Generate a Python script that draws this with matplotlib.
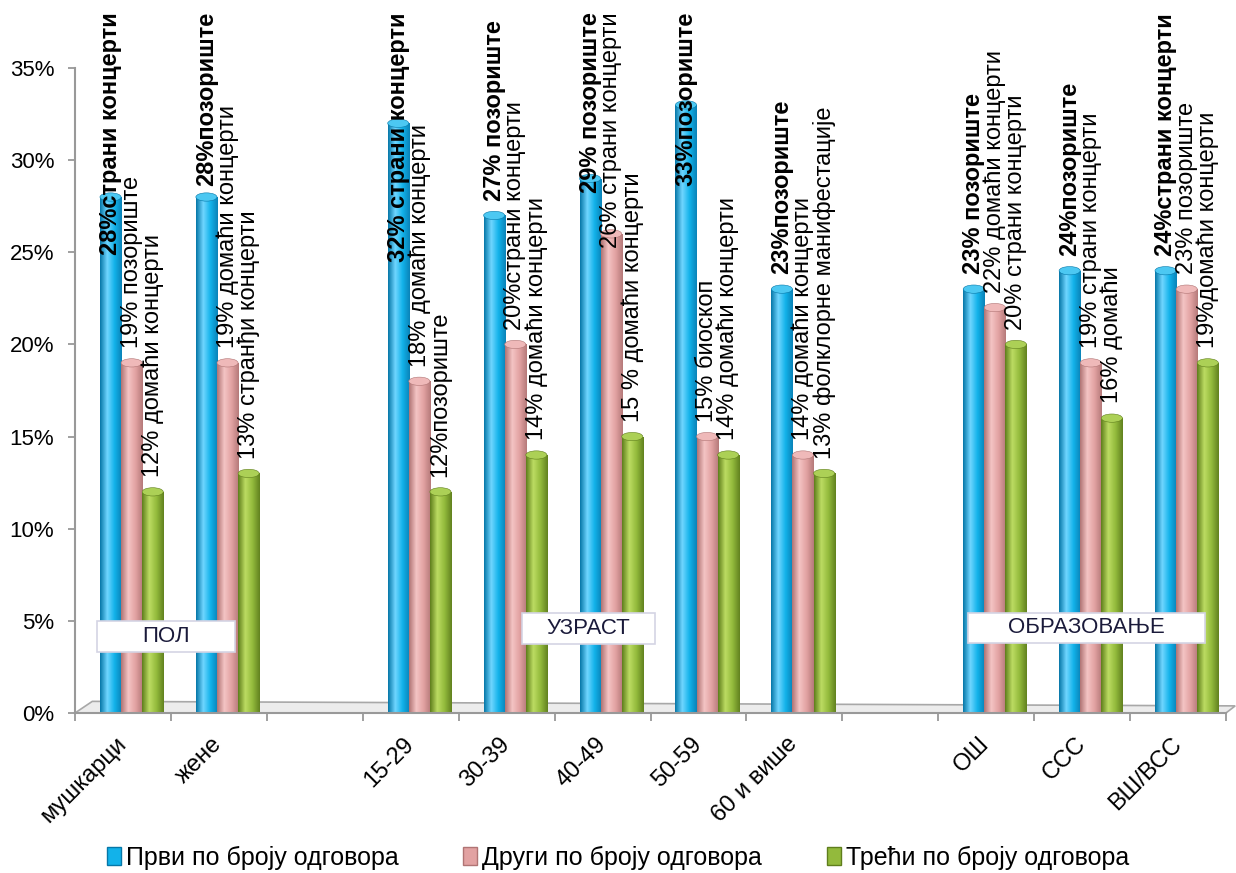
import numpy as np
import matplotlib
matplotlib.use("Agg")
import matplotlib.pyplot as plt
from matplotlib.colors import LinearSegmentedColormap
from matplotlib.patches import Ellipse, Rectangle, Polygon

plt.rcParams['font.family'] = ['Liberation Sans', 'DejaVu Sans']

# data ("" / nan = empty slot between groups)
categories = ["мушкарци", "жене", "", "15-29", "30-39", "40-49", "50-59",
              "60 и више", "", "ОШ", "ССС", "ВШ/ВСС"]
first = [28, 28, np.nan, 32, 27, 29, 33, 23, np.nan, 23, 24, 24]
second = [19, 19, np.nan, 18, 20, 26, 15, 14, np.nan, 22, 19, 23]
third = [12, 13, np.nan, 12, 14, 15, 14, 13, np.nan, 20, 16, 19]

first_labels = ["28%страни концерти", "28%позориште", "", "32% страни концерти",
                "27% позориште", "29% позориште", "33%позориште", "23%позориште",
                "", "23% позориште", "24%позориште", "24%страни концерти"]
second_labels = ["19% позориште", "19% домаћи концерти", "", "18% домаћи концерти",
                 "20%страни концерти", "26% страни концерти", "15% биоскоп",
                 "14% домаћи концерти", "", "22% домаћи концерти",
                 "19% страни концерти", "23% позориште"]
third_labels = ["12% домаћи концерти", "13% странђи концерти", "", "12%позориште",
                "14% домаћи концерти", "15 % домаћи концерти", "14% домаћи концерти",
                "13% фолклорне манифестације", "", "20% страни концерти",
                "16% домаћи", "19%домаћи концерти"]

series_names = ["Први по броју одговора", "Други по броју одговора",
                "Трећи по броју одговора"]
groups = ["ПОЛ", "УЗРАСТ", "ОБРАЗОВАЊЕ"]

# (dark edge, highlight, base, dark edge)
shades = [
    ["#0677a8", "#6fd6ff", "#12b2ea", "#0a83b8"],
    ["#b07474", "#f4c4c4", "#e2a2a2", "#b57a7a"],
    ["#5f7e1c", "#bcdc62", "#93ba3c", "#62821f"],
]
tops = ["#4cc8f2", "#efb9b9", "#acd056"]

fig = plt.figure(figsize=(12.36, 8.73), dpi=100)
ax = fig.add_axes([0.0607, 0.1833, 0.9312, 0.7388])

x = np.arange(len(categories))
width = 0.22
shift = 0.09
all_vals = [first, second, third]
all_labels = [first_labels, second_labels, third_labels]

# floor of the 3d plot
floor = Polygon([(0, 0), (1, 0), (1.008, 0.011), (0.015, 0.018)], closed=True,
                transform=ax.transAxes, facecolor="#ececec", edgecolor="#a8a8a8",
                lw=1.2, zorder=1, clip_on=False)
ax.add_patch(floor)

texts = []
for k, vals in enumerate(all_vals):
    xs = x + shift + (k - 1) * width
    bars = ax.bar(xs, vals, width, color="none", edgecolor="none", zorder=2)
    cmap = LinearSegmentedColormap.from_list(f"cyl{k}", shades[k])
    grad = np.linspace(0, 1, 64).reshape(1, -1)
    for b, v in zip(bars, vals):
        if np.isnan(v):
            continue
        x0 = b.get_x()
        im = ax.imshow(grad, extent=[x0, x0 + width, 0, v], aspect="auto",
                       cmap=cmap, origin="lower", zorder=2)
        im.set_clip_path(b)
        ax.add_patch(Ellipse((x0 + width / 2, v), width, 0.45, facecolor=tops[k],
                             edgecolor=shades[k][0], lw=0.4, zorder=3))
    for xi, v, lab in zip(xs, vals, all_labels[k]):
        if not lab:
            continue
        t = ax.text(xi, v + 0.8, lab, rotation=90, ha="center", va="bottom",
                    fontsize=17, fontweight="bold" if k == 0 else "normal",
                    zorder=5, clip_on=False)
        texts.append(t)

ax.set_xlim(-0.5, len(categories) - 0.5)
ax.set_ylim(0, 35)
ax.set_yticks(np.arange(0, 36, 5))
ax.set_yticklabels([f"{v}%" for v in range(0, 36, 5)], fontsize=16)
ax.set_xticks(x)
ax.set_xticklabels(categories, rotation=45, ha="right", va="center",
                   rotation_mode="anchor", fontsize=17)
ax.set_xticks(np.arange(-0.5, len(categories)), minor=True)
ax.tick_params(axis="x", which="major", length=0, pad=20)
ax.tick_params(axis="x", which="minor", length=6, color="#999999", width=1.3)
ax.tick_params(axis="y", length=5, color="#999999", width=1.3, pad=10)
for s in ["top", "right"]:
    ax.spines[s].set_visible(False)
for s in ["left", "bottom"]:
    ax.spines[s].set_color("#999999")
    ax.spines[s].set_linewidth(1.5)

# group boxes
boxes = [(-0.27, 3.3, 1.44, 1.7), (4.16, 3.75, 1.39, 1.68), (8.81, 3.8, 2.47, 1.63)]
for name, (bx, by, bw, bh) in zip(groups, boxes):
    ax.add_patch(Rectangle((bx, by), bw, bh, facecolor="white", edgecolor="#d4d4e4",
                           lw=1.2, zorder=6))
    ax.text(bx + bw / 2, by + bh / 2, name, ha="center", va="center", fontsize=16,
            color="#1a1a3a", zorder=7)

leg_handles = [Rectangle((0, 0), 1, 1, facecolor=shades[k][2], edgecolor=shades[k][0])
               for k in range(3)]
fig.legend(leg_handles, series_names, loc="lower center", ncol=3, frameon=False,
           fontsize=18, handlelength=0.55, handleheight=0.7, handletextpad=0.2,
           columnspacing=2.6, bbox_to_anchor=(0.5, -0.022))

# keep the rotated labels inside the figure (the original pushes long ones down)
fig.canvas.draw()
renderer = fig.canvas.get_renderer()
limit = fig.bbox.height - 12
px_per_unit = ax.bbox.height / 35.0
for t in texts:
    bb = t.get_window_extent(renderer)
    if bb.y1 > limit:
        xt, yt = t.get_position()
        t.set_position((xt, yt - (bb.y1 - limit) / px_per_unit))

fig.savefig("out.png", dpi=100)
